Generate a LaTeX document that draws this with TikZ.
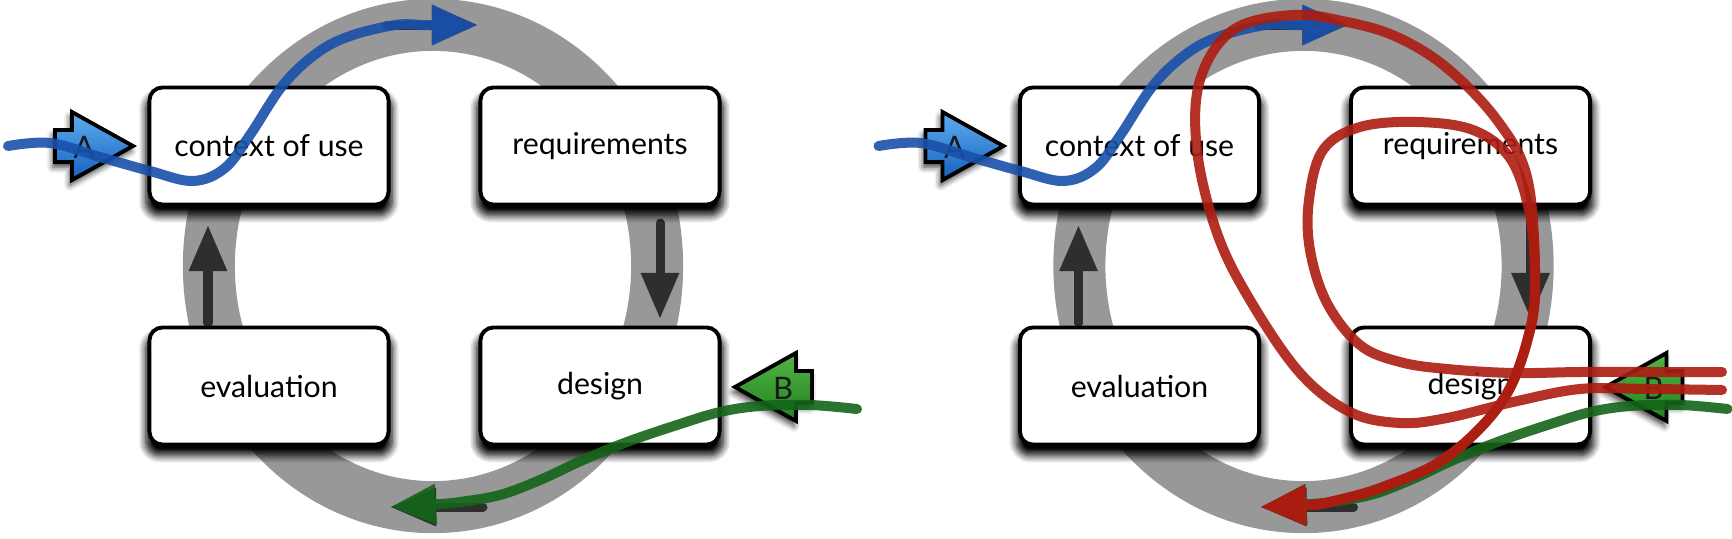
\documentclass[tikz,border=0pt]{standalone}
\usepackage{fontspec}
\setmainfont{Lato}
\usetikzlibrary{arrows.meta, shadows.blur}

\definecolor{ringgray}{RGB}{152,152,152}
\definecolor{ringdark}{RGB}{46,46,46}
\definecolor{trailblue}{RGB}{25,80,170}
\definecolor{trailgreen}{RGB}{20,100,25}
\definecolor{trailred}{RGB}{172,28,16}
\definecolor{tagblueup}{RGB}{95,175,240}
\definecolor{tagbluedown}{RGB}{20,95,190}
\definecolor{taggreenup}{RGB}{85,180,70}
\definecolor{taggreendown}{RGB}{30,130,30}

\begin{document}
\begin{tikzpicture}[x=0.01cm, y=-0.01cm,
  ring/.style={ringgray, line width=0.52cm},
  ringarrow/.style={ringdark, line width=0.09cm, line cap=round, -{Triangle[length=0.46cm, width=0.36cm]}},
  stage/.style={draw=black, line width=1.1pt, fill=white, rounded corners=0.13cm,
    minimum width=2.39cm, minimum height=1.17cm, font=\fontsize{8.6pt}{10pt}\selectfont,
    blur shadow={shadow xshift=0cm, shadow yshift=-0.09cm, shadow scale=1.03,
      shadow blur radius=0.07cm, shadow blur steps=8, shadow opacity=100}},
  blockarrow/.style={draw=black, line width=1.1pt, line join=miter,
    blur shadow={shadow xshift=-0.02cm, shadow yshift=-0.05cm, shadow blur radius=0.06cm, shadow opacity=80}},
  tag/.style={inner sep=0pt, text=black!90, font=\fontsize{8.8pt}{10pt}\selectfont},
  trail/.style={line width=0.1cm, line cap=round, line join=round, opacity=0.9,
    -{Triangle[length=0.46cm, width=0.38cm]}}]
\useasboundingbox (0,0) rectangle (1732,539);

\foreach \side/\dx in {l/0cm, r/8.7cm}{
\begin{scope}[xshift=\dx]
%the ring
\draw[ring] (433,266) ellipse [x radius=2.24cm, y radius=2.41cm];
\draw[ringarrow] (387,25) -- (478,25);
\draw[ringarrow] (660,223) -- (660,319);
\draw[ringarrow] (483,507) -- (390,507);
\draw[ringarrow] (208,323) -- (208,225);

%the stages
\node[stage] (ctx\side) at (269,146) {context of use};
\node[stage] (req\side) at (600,146) {requirements};
\node[stage] (eval\side) at (269,386) {evaluation};
\node[stage] (des\side) at (600,386) {design};

%entry points
\draw[blockarrow, top color=tagblueup, bottom color=tagbluedown]
  (55,130) -- (72,130) -- (72,112) -- (133,146) -- (72,180) -- (72,162) -- (55,162) -- cycle;
\node[tag] (A\side) at (84,147) {A};
\draw[blockarrow, top color=taggreenup, bottom color=taggreendown]
  (812,371) -- (796,371) -- (796,353) -- (735,387) -- (796,421) -- (796,403) -- (812,403) -- cycle;
\node[tag] (B\side) at (783,388) {B};

%the trails
\draw[trail, trailblue] plot[smooth, tension=0.6] coordinates {(8,146) (50,143) (100,157) (150,171)
  (193,181) (225,168) (250,135) (283,85) (317,53) (350,36) (395,25) (420,25)} -- (478,25);
\draw[trail, trailgreen] plot[smooth, tension=0.6] coordinates {(857,409) (810,405) (760,406)
  (720,412) (677,425) (627,442) (583,460) (540,480) (500,495) (460,502) (440,504)} -- (390,507);
\end{scope}
}

%the wandering path
\draw[trail, trailred] plot[smooth, tension=0.6] coordinates {(1722,390) (1647,389) (1580,389)
  (1513,402) (1447,418) (1400,423) (1350,412) (1300,373) (1250,300) (1217,233) (1197,150)
  (1200,80) (1233,30) (1293,15) (1347,22) (1397,37) (1447,68) (1497,120) (1527,177) (1535,270)
  (1530,330) (1503,400) (1447,457) (1383,487) (1330,502) (1310,505)} -- (1260,507);
\draw[trail, trailred] plot[smooth, tension=0.6] coordinates {(1722,372) (1647,372) (1580,372)
  (1513,373) (1447,369) (1400,362) (1360,345) (1327,303) (1310,250) (1309,200) (1323,150)
  (1360,127) (1417,122) (1473,130) (1510,158) (1529,210) (1535,270) (1530,330) (1503,400)
  (1447,457) (1383,487) (1330,502) (1310,505)} -- (1260,507);
\end{tikzpicture}
\end{document}
